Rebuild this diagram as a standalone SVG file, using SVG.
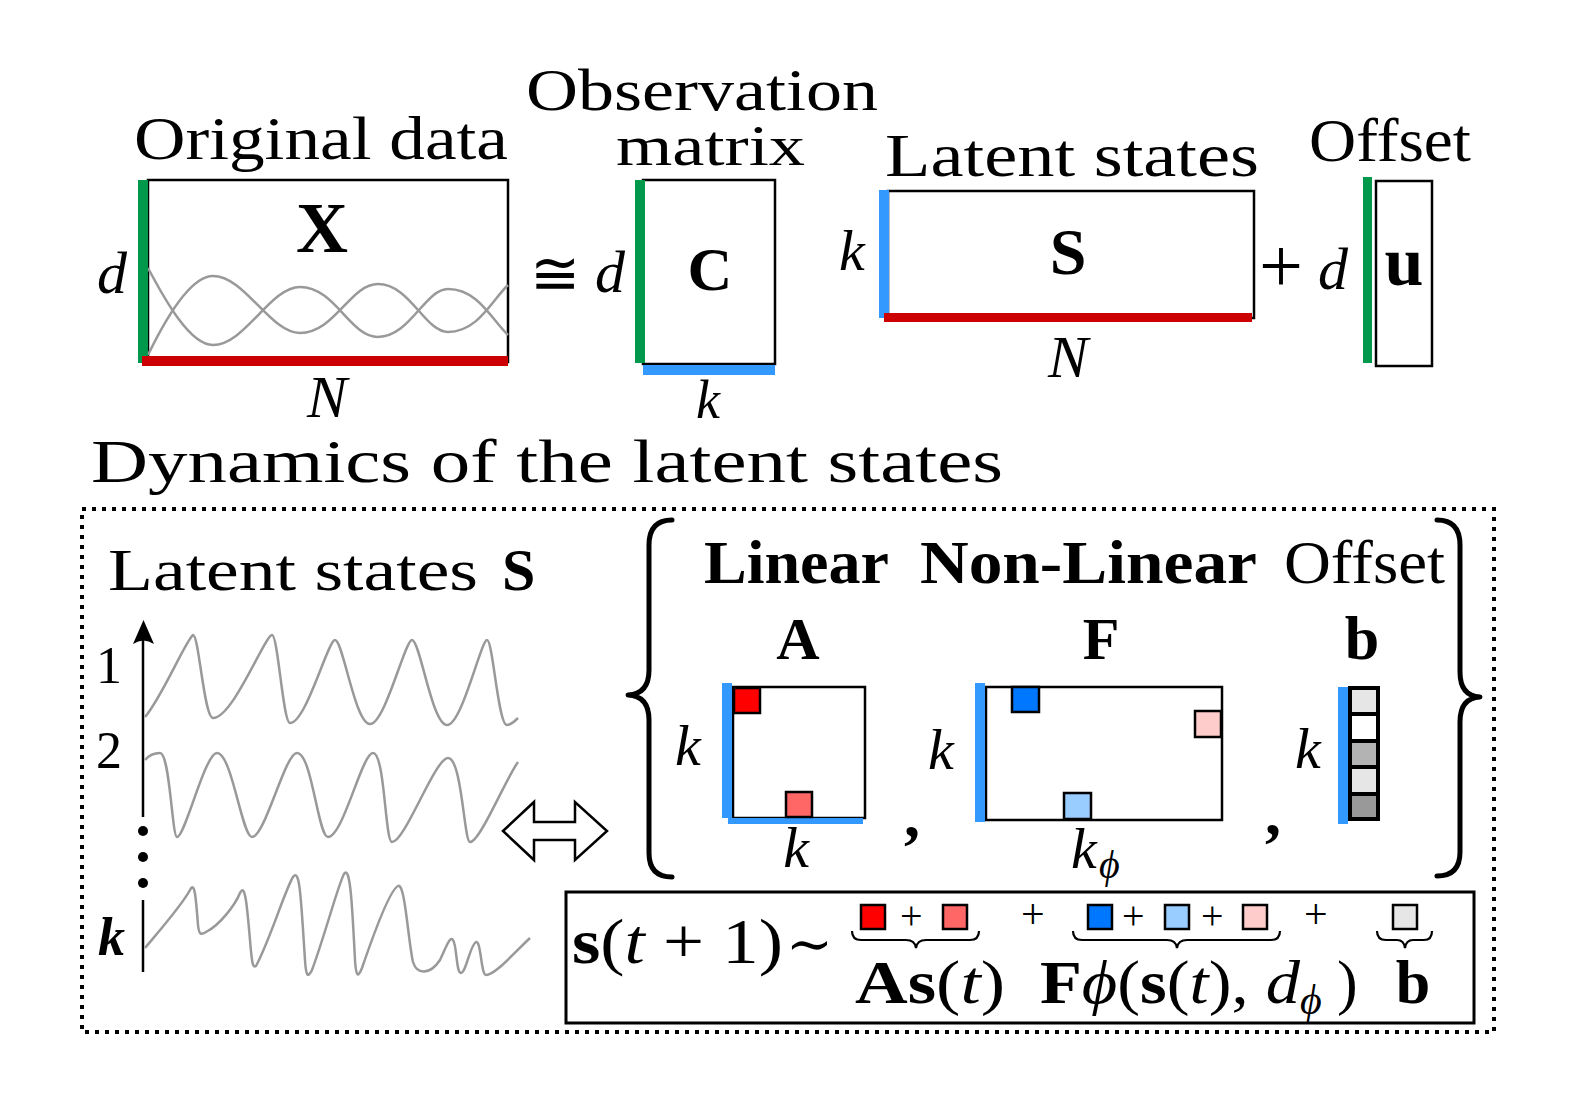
<svg xmlns="http://www.w3.org/2000/svg" width="1577" height="1100" viewBox="0 0 1577 1100">
<style>
.t{font-family:"Liberation Serif","DejaVu Serif",serif;fill:#000}
.i{font-style:italic}
.b{font-weight:bold}
.sym{font-family:"DejaVu Serif","DejaVu Sans",serif;fill:#000}
.curve{fill:none;stroke:#999;stroke-width:2.5}
.frame{fill:none;stroke:#000;stroke-width:2.5}
.cell{stroke:#000;stroke-width:2.5}
.green{fill:#00994c}
.red{fill:#cc0000}
.blue{fill:#3399ff}
.brace{fill:none;stroke:#000;stroke-width:5;stroke-linecap:round;stroke-linejoin:round}
.ubrace{fill:none;stroke:#000;stroke-width:2.2}
</style>
<rect width="1577" height="1100" fill="#fff"/>

<!-- Top titles -->
<g id="titles">
<text class="t" x="134" y="159" font-size="62" textLength="374" lengthAdjust="spacingAndGlyphs">Original data</text>
<text class="t" x="526" y="110" font-size="60" textLength="352" lengthAdjust="spacingAndGlyphs">Observation</text>
<text class="t" x="616" y="165" font-size="57" textLength="189" lengthAdjust="spacingAndGlyphs">matrix</text>
<text class="t" x="885" y="176" font-size="62" textLength="374" lengthAdjust="spacingAndGlyphs">Latent states</text>
<text class="t" x="1309" y="161" font-size="62" textLength="162" lengthAdjust="spacingAndGlyphs">Offset</text>
<text class="t" x="91" y="482" font-size="62" textLength="912" lengthAdjust="spacingAndGlyphs">Dynamics of the latent states</text>
</g>

<!-- X matrix -->
<g id="matrix-X">
<rect class="frame" x="148" y="180" width="360" height="182"/>
<path class="curve" d="M148,268 C165,300 190,345 213,345 C245,345 270,287 300,287 C335,287 350,337 378,337 C410,337 425,289 448,289 C478,289 492,320 508,335"/>
<path class="curve" d="M148,355 C165,320 190,276 213,276 C245,276 270,333 300,333 C335,333 350,284 378,284 C410,284 425,332 448,332 C478,332 492,300 508,285"/>
<rect class="green" x="138" y="180" width="10" height="183"/>
<rect class="red" x="142" y="356" width="366" height="10"/>
<text class="t b" x="322" y="252" font-size="72" text-anchor="middle">X</text>
<text class="t i" x="97" y="293" font-size="60">d</text>
<text class="t i" x="327" y="417" font-size="60" text-anchor="middle">N</text>
</g>

<text class="sym" x="530" y="294" font-size="60">≅</text>

<!-- C matrix -->
<g id="matrix-C">
<rect class="frame" x="643" y="180" width="132" height="184"/>
<rect class="green" x="635" y="180" width="10" height="183"/>
<rect class="blue" x="643" y="365" width="132" height="10"/>
<text class="t b" x="710" y="290" font-size="62" text-anchor="middle">C</text>
<text class="t i" x="595" y="292" font-size="60">d</text>
<text class="t i" x="708" y="418" font-size="54" text-anchor="middle">k</text>
</g>

<!-- S matrix -->
<g id="matrix-S">
<rect class="frame" x="888" y="191" width="366" height="127"/>
<rect class="blue" x="879" y="190" width="10" height="128"/>
<rect class="red" x="884" y="313" width="368" height="9"/>
<text class="t b" x="1068" y="274" font-size="66" text-anchor="middle">S</text>
<text class="t i" x="839" y="270" font-size="58">k</text>
<text class="t i" x="1068" y="377" font-size="60" text-anchor="middle">N</text>
</g>

<text class="t" x="1259" y="292" font-size="78">+</text>

<!-- u vector -->
<g id="vector-u">
<rect class="frame" x="1376" y="181" width="56" height="185"/>
<rect class="green" x="1363" y="177" width="9" height="186"/>
<text class="t b" x="1404" y="285" font-size="70" text-anchor="middle">u</text>
<text class="t i" x="1318" y="289" font-size="60">d</text>
</g>

<!-- Dotted frame -->
<rect x="82" y="509" width="1412" height="523" fill="none" stroke="#000" stroke-width="4" stroke-dasharray="4 6"/>

<!-- Latent states panel -->
<g id="latent-panel">
<text class="t" x="108" y="590" font-size="60"><tspan textLength="370" lengthAdjust="spacingAndGlyphs">Latent states</tspan><tspan class="b" x="502">S</tspan></text>
<line x1="143" y1="817" x2="143" y2="630" stroke="#000" stroke-width="2.5"/>
<path d="M143.5,620 L154,644 Q143.5,637 133,644 Z" fill="#000"/>
<circle cx="143" cy="831" r="5"/>
<circle cx="143" cy="857" r="5"/>
<circle cx="143" cy="883" r="5"/>
<line x1="143" y1="900" x2="143" y2="972" stroke="#000" stroke-width="2.5"/>
<text class="t" x="96" y="683" font-size="52">1</text>
<text class="t" x="96" y="768" font-size="52">2</text>
<text class="t i b" x="98" y="955" font-size="54">k</text>
<path class="curve" d="M145,717 C162,697 186,640 193,635 C199,635 204,718 213,718 C233,718 265,635 272,635 C278,635 283,723 290,723 C306,723 328,640 335,640 C343,640 355,724 370,724 C385,724 405,640 412,640 C420,640 432,725 447,725 C462,725 481,640 487,640 C493,640 498,725 507,725 C511,725 515,721 518,718"/>
<path class="curve" d="M145,760 C150,754 155,753 160,753 C170,753 172,837 177,837 C185,837 205,753 217,753 C232,753 242,837 252,837 C265,837 285,753 297,753 C312,753 318,837 328,837 C343,837 362,753 373,753 C385,753 385,842 392,842 C405,842 435,758 448,758 C462,758 464,842 470,842 C480,842 505,780 518,762"/>
<path class="curve" d="M145,948 C160,930 182,905 190,890 C195,880 196,900 198,925 C199,935 201,935 206,932 C220,925 235,905 240,893 C245,882 247,905 250,940 C252,965 253,968 256,966 C270,940 285,890 293,877 C300,867 301,900 305,960 C306,977 308,978 312,970 C325,935 338,885 344,874 C350,865 352,900 355,960 C356,977 358,978 362,968 C375,930 390,890 398,886 C405,882 408,940 413,962 C417,975 430,975 440,960 C447,945 450,936 453,940 C457,945 456,973 461,973 C466,973 470,945 476,942 C481,940 481,975 486,975 C495,975 515,952 530,938"/>
</g>

<!-- Double arrow -->
<g id="connectors">
<polygon points="503,831 534,802 534,822 575,822 575,802 607,831 575,860 575,840 534,840 534,860" fill="#fff" stroke="#000" stroke-width="2.5" stroke-linejoin="miter"/>
</g>

<!-- Braces -->
<g id="braces">
<path class="brace" d="M672,520 Q649,520 649,545 L649,670 Q649,694 628,695 Q649,696 649,720 L649,853 Q649,877 672,877"/>
<path class="brace" d="M1437,520 Q1460,520 1460,545 L1460,672 Q1460,696 1480,697 Q1460,698 1460,722 L1460,852 Q1460,876 1437,876"/>
</g>

<!-- Headings -->
<g id="headings">
<text class="t b" x="704" y="583" font-size="62" textLength="185" lengthAdjust="spacingAndGlyphs">Linear</text>
<text class="t b" x="920" y="583" font-size="62" textLength="337" lengthAdjust="spacingAndGlyphs">Non-Linear</text>
<text class="t" x="1284" y="583" font-size="62" textLength="161" lengthAdjust="spacingAndGlyphs">Offset</text>
</g>

<!-- A matrix -->
<g id="matrix-A">
<text class="t b" x="798" y="659" font-size="60" text-anchor="middle">A</text>
<rect class="frame" x="733" y="687" width="132" height="131"/>
<rect class="blue" x="722" y="683" width="10" height="135"/>
<rect class="blue" x="728" y="818" width="135" height="6"/>
<rect class="cell" x="734" y="688" width="26" height="25" fill="#ff0000"/>
<rect class="cell" x="786" y="792" width="26" height="25" fill="#ff6666"/>
<text class="t i" x="675" y="765" font-size="58">k</text>
<text class="t i" x="796" y="867" font-size="58" text-anchor="middle">k</text>
<text class="t b" x="904" y="836" font-size="64">,</text>
</g>

<!-- F matrix -->
<g id="matrix-F">
<text class="t b" x="1101" y="659" font-size="60" text-anchor="middle">F</text>
<rect class="frame" x="986" y="687" width="236" height="133"/>
<rect class="blue" x="975" y="683" width="10" height="139"/>
<rect class="cell" x="1012" y="687" width="27" height="25" fill="#0077ff"/>
<rect class="cell" x="1064" y="793" width="27" height="26" fill="#99ccff"/>
<rect class="cell" x="1195" y="711" width="26" height="26" fill="#ffcccc"/>
<text class="t i" x="928" y="769" font-size="58">k</text>
<text class="t i" x="1071" y="868" font-size="58">k</text>
<text class="t i" x="1099" y="878" font-size="40">ϕ</text>
<text class="t b" x="1265" y="834" font-size="64">,</text>
</g>

<!-- b vector -->
<g id="vector-b">
<text class="t b" x="1362" y="659" font-size="62" text-anchor="middle">b</text>
<rect class="blue" x="1338" y="687" width="10" height="137"/>
<rect x="1350" y="688" width="28" height="26" fill="#e6e6e6" stroke="#000" stroke-width="4"/>
<rect x="1350" y="714" width="28" height="27" fill="#ffffff" stroke="#000" stroke-width="4"/>
<rect x="1350" y="741" width="28" height="26" fill="#b3b3b3" stroke="#000" stroke-width="4"/>
<rect x="1350" y="767" width="28" height="27" fill="#e6e6e6" stroke="#000" stroke-width="4"/>
<rect x="1350" y="794" width="28" height="25" fill="#999999" stroke="#000" stroke-width="4"/>
<text class="t i" x="1295" y="768" font-size="58">k</text>
</g>

<!-- Formula -->
<g id="formula">
<rect x="566" y="892" width="908" height="131" fill="none" stroke="#000" stroke-width="3"/>
<text class="t" x="572" y="963" font-size="64" textLength="211" lengthAdjust="spacingAndGlyphs"><tspan class="b">s</tspan>(<tspan class="i">t</tspan> + 1)</text>
<text class="sym" x="786" y="963" font-size="56">∼</text>
<rect class="cell" x="861" y="905" width="24" height="24" fill="#ff0000"/>
<text class="t" x="900" y="929" font-size="40">+</text>
<rect class="cell" x="943" y="905" width="24" height="24" fill="#ff6666"/>
<text class="t" x="1021" y="928" font-size="42">+</text>
<rect class="cell" x="1088" y="905" width="24" height="24" fill="#0077ff"/>
<text class="t" x="1122" y="929" font-size="40">+</text>
<rect class="cell" x="1165" y="905" width="24" height="24" fill="#99ccff"/>
<text class="t" x="1201" y="929" font-size="40">+</text>
<rect class="cell" x="1243" y="905" width="24" height="24" fill="#ffcccc"/>
<text class="t" x="1304" y="928" font-size="42">+</text>
<rect class="cell" x="1393" y="905" width="24" height="24" fill="#e6e6e6"/>
<path class="ubrace" d="M852,931 Q852,940 861,940 L906,940 Q915,940 916,948 Q917,940 926,940 L970,940 Q979,940 979,931"/>
<path class="ubrace" d="M1073,931 Q1073,940 1082,940 L1167,940 Q1176,940 1177,948 Q1178,940 1187,940 L1271,940 Q1280,940 1280,931"/>
<path class="ubrace" d="M1377,931 Q1377,940 1386,940 L1397,940 Q1404,940 1405,948 Q1406,940 1413,940 L1424,940 Q1432,940 1432,931"/>
<text class="t" x="855" y="1003" font-size="62" textLength="150" lengthAdjust="spacingAndGlyphs"><tspan class="b">As</tspan>(<tspan class="i">t</tspan>)</text>
<text class="t" x="1040" y="1003" font-size="62" textLength="260" lengthAdjust="spacingAndGlyphs"><tspan class="b">F</tspan><tspan class="i">ϕ</tspan>(<tspan class="b">s</tspan>(<tspan class="i">t</tspan>), <tspan class="i">d</tspan></text>
<text class="t i" x="1300" y="1014" font-size="42">ϕ</text>
<text class="t" x="1337" y="1003" font-size="62">)</text>
<text class="t b" x="1413" y="1003" font-size="62" text-anchor="middle">b</text>
</g>
</svg>
